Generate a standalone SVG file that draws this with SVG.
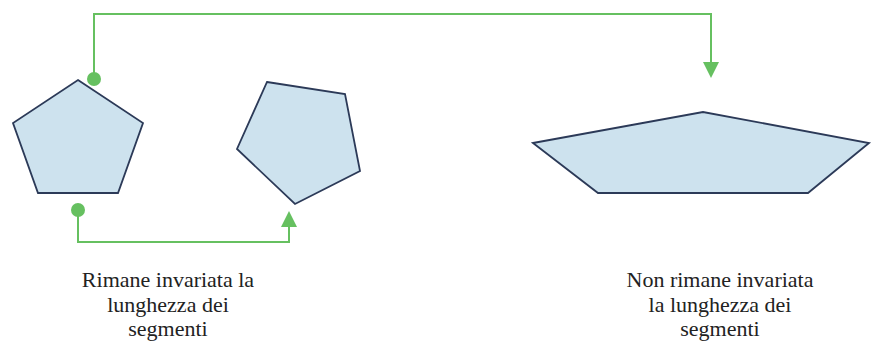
<svg xmlns="http://www.w3.org/2000/svg" width="872" height="343" viewBox="0 0 872 343">
<style>
.shape{fill:#cde2ee;stroke:#2c3a58;stroke-width:1.8;stroke-linejoin:miter}
.conn{fill:none;stroke:#66c060;stroke-width:2}
.dot{fill:#66c060}
.head{fill:#66c060}
.lbl{font-family:"Liberation Serif","Times New Roman",serif;font-size:22px;fill:#222;text-anchor:middle}
</style>
<rect width="872" height="343" fill="#ffffff"/>
<g id="connectors">
<path class="conn" d="M94 79 V14 H711 V64"/>
<circle class="dot" cx="94" cy="79" r="7"/>
<polygon class="head" points="703,62 719,62 711,78"/>
<path class="conn" d="M78 210 V242 H289 V224"/>
<circle class="dot" cx="78" cy="210" r="7"/>
<polygon class="head" points="281,227 297,227 289,211"/>
</g>
<g id="pentagon-regular">
<polygon class="shape" points="78,80 143,123 118,193 38,193 13,123"/>
</g>
<g id="pentagon-rotated">
<polygon class="shape" points="267,82 345,94 360,171 295,204 237,149"/>
</g>
<g id="pentagon-deformed">
<polygon class="shape" points="533,143 703,112 869,143 808,193 598,193"/>
</g>
<g id="label-left">
<text class="lbl" x="168" y="287">Rimane invariata la</text>
<text class="lbl" x="168" y="312">lunghezza dei</text>
<text class="lbl" x="168" y="336">segmenti</text>
</g>
<g id="label-right">
<text class="lbl" x="720" y="287">Non rimane invariata</text>
<text class="lbl" x="720" y="312">la lunghezza dei</text>
<text class="lbl" x="720" y="336">segmenti</text>
</g>
</svg>
